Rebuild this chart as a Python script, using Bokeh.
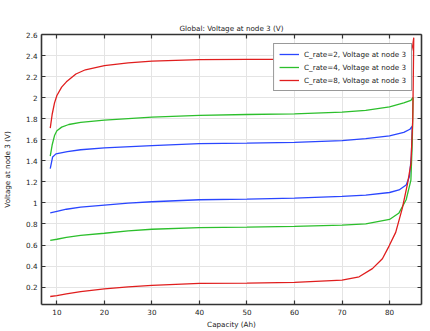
from bokeh.plotting import figure
from bokeh.models import LinearAxis, FixedTicker, Range1d, Legend, LegendItem
from bokeh.embed import file_html
from bokeh.resources import INLINE

# ---- data ----
series_names = ["C_rate=2, Voltage at node 3",
                "C_rate=4, Voltage at node 3",
                "C_rate=8, Voltage at node 3"]
series_colors = ["#2a46ff", "#2cbf2c", "#e01e1e"]

# C_rate = 2
cap_c2 = [8.6, 10, 12, 15, 20, 25, 30, 40, 50, 60, 70, 75, 80, 82, 83.5, 84.2, 84.6, 84.8,
          84.8, 84.3, 83, 80, 75, 70, 60, 50, 40, 30, 20, 15, 12.2, 9.8, 9.1, 8.6]
volt_c2 = [0.906, 0.92, 0.94, 0.96, 0.98, 0.998, 1.011, 1.03, 1.036, 1.046, 1.062, 1.075, 1.099, 1.123, 1.17, 1.25, 1.45, 1.73,
           1.73, 1.70, 1.67, 1.637, 1.61, 1.591, 1.576, 1.569, 1.563, 1.544, 1.523, 1.505, 1.488, 1.466, 1.437, 1.325]

# C_rate = 4
cap_c4 = [8.6, 10, 12, 15, 20, 25, 30, 40, 50, 60, 70, 75, 80, 82, 83.5, 84.5, 84.8, 84.95,
          84.9, 84.5, 83, 80, 75, 70, 60, 50, 40, 30, 20, 15, 12.5, 11, 10, 9.5, 9, 8.6]
volt_c4 = [0.644, 0.655, 0.672, 0.692, 0.712, 0.735, 0.75, 0.765, 0.771, 0.778, 0.79, 0.80, 0.843, 0.905, 1.03, 1.217, 1.6, 2.0,
           2.0, 1.975, 1.95, 1.912, 1.88, 1.862, 1.846, 1.84, 1.831, 1.815, 1.787, 1.765, 1.745, 1.72, 1.685, 1.64, 1.55, 1.445]

# C_rate = 8
cap_c8 = [8.6, 10, 12, 15, 20, 25, 30, 40, 50, 60, 70, 73.6, 76.4, 78.5, 79.9, 81.3, 82.7, 83.8, 84.5, 84.9, 85.1,
          85.1, 84.9, 84.5, 83, 80, 70, 60, 50, 40, 30, 25, 20, 16, 14, 12, 11, 10, 9.5, 9, 8.6]
volt_c8 = [0.111, 0.12, 0.135, 0.158, 0.183, 0.203, 0.217, 0.236, 0.238, 0.245, 0.267, 0.298, 0.376, 0.47, 0.59, 0.72, 0.95, 1.186, 1.37, 1.8, 2.57,
           2.57, 2.5, 2.42, 2.385, 2.372, 2.37, 2.365, 2.363, 2.361, 2.348, 2.33, 2.305, 2.265, 2.225, 2.15, 2.10, 2.02, 1.95, 1.84, 1.71]

x_ticks = [10, 20, 30, 40, 50, 60, 70, 80]
x_tick_labels = ["10", "20", "30", "40", "50", "60", "70", "80"]
y_ticks = [0.2, 0.4, 0.6, 0.8, 1.0, 1.2, 1.4, 1.6, 1.8, 2.0, 2.2, 2.4, 2.6]
y_tick_labels = ["0.2", "0.4", "0.6", "0.8", "1", "1.2", "1.4", "1.6", "1.8", "2", "2.2", "2.4", "2.6"]

title_text = "Global: Voltage at node 3 (V)"
x_label = "Capacity (Ah)"
y_label = "Voltage at node 3 (V)"

FONT = "DejaVu Sans"
FS = "7.2px"
DARK = "#333333"

p = figure(width=430, height=331, output_backend="svg", toolbar_location=None,
           x_range=Range1d(6.76, 86.73), y_range=Range1d(0.035, 2.6),
           min_border_left=40, min_border_right=9, min_border_top=34, min_border_bottom=23,
           title=title_text)
p.outline_line_color = None
p.background_fill_color = "white"
p.border_fill_color = "white"

p.title.align = "center"
p.title.text_font = FONT
p.title.text_font_size = FS
p.title.text_font_style = "normal"
p.title.text_color = "#222222"
p.title.standoff = 4

p.add_layout(LinearAxis(), "above")
p.add_layout(LinearAxis(), "right")

def style_axis(ax, ticks, labels, show_labels):
    ax.ticker = FixedTicker(ticks=ticks)
    ax.axis_line_color = DARK
    ax.axis_line_width = 1.6
    ax.major_tick_in = 4
    ax.major_tick_out = 0
    ax.major_tick_line_color = DARK
    ax.major_tick_line_width = 1.2
    ax.minor_tick_line_color = None
    ax.major_label_text_font = FONT
    if show_labels:
        ax.major_label_overrides = dict(zip(ticks, labels))
        ax.major_label_text_font_size = FS
        ax.major_label_text_color = "#222222"
        ax.major_label_standoff = 4
    else:
        ax.major_label_text_font_size = "1px"
        ax.major_label_text_color = None
        ax.major_label_standoff = 0

for ax in p.below:
    if isinstance(ax, LinearAxis):
        style_axis(ax, x_ticks, x_tick_labels, True)
        ax.axis_label = x_label
for ax in p.above:
    if isinstance(ax, LinearAxis):
        style_axis(ax, x_ticks, x_tick_labels, False)
for ax in p.left:
    style_axis(ax, y_ticks, y_tick_labels, True)
    ax.axis_label = y_label
for ax in p.right:
    style_axis(ax, y_ticks, y_tick_labels, False)

for ax in list(p.below) + list(p.left):
    ax.axis_label_text_font = FONT
    ax.axis_label_text_font_size = FS
    ax.axis_label_text_font_style = "normal"
    ax.axis_label_text_color = "#222222"
p.below[0].axis_label_standoff = 2
p.left[0].axis_label_standoff = 11

p.xgrid.ticker = FixedTicker(ticks=x_ticks)
p.ygrid.ticker = FixedTicker(ticks=y_ticks)
p.xgrid.grid_line_color = "#e4e4e4"
p.ygrid.grid_line_color = "#e4e4e4"

caps = [cap_c2, cap_c4, cap_c8]
volts = [volt_c2, volt_c4, volt_c8]
items = []
for name, col, xs, ys in zip(series_names, series_colors, caps, volts):
    r = p.line(xs, ys, line_color=col, line_width=1.3)
    items.append(LegendItem(label=name, renderers=[r]))

legend = Legend(items=items, location="top_right", margin=9,
                border_line_color=DARK, border_line_width=1.6,
                background_fill_color="white", background_fill_alpha=1.0,
                label_text_font=FONT, label_text_font_size=FS, label_text_color="#222222",
                glyph_width=20, glyph_height=10, label_height=10, spacing=3,
                padding=5, label_standoff=5)
p.add_layout(legend)

open("out.html", "w").write(file_html(p, INLINE))
